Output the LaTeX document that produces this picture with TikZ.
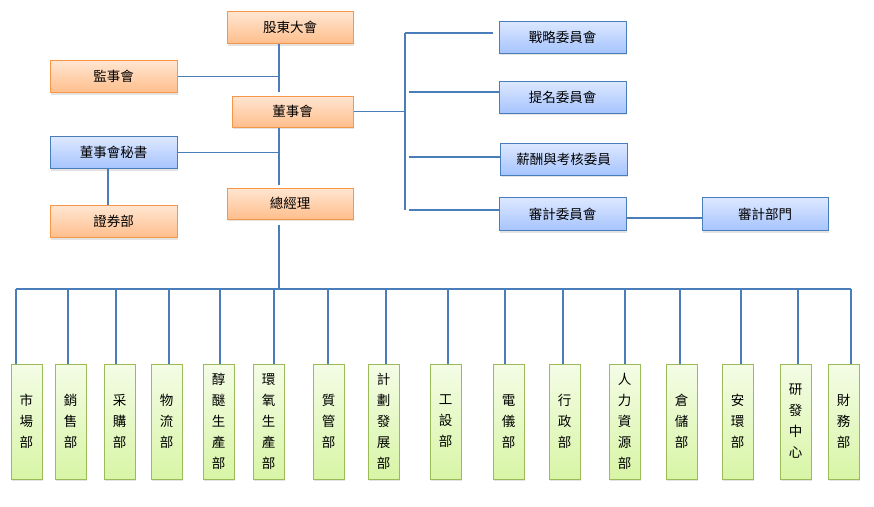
\documentclass[tikz,border=0pt]{standalone}
\usepackage{fontspec}
\newfontfamily\cjk{Noto Sans CJK TC}
\usetikzlibrary{shadows}
\definecolor{lnc}{HTML}{4A7EBB}
\definecolor{orbd}{HTML}{F79646}
\definecolor{ortop}{HTML}{FFE6D2}
\definecolor{orbot}{HTML}{FFBE8C}
\definecolor{blbd}{HTML}{4A7EBB}
\definecolor{bltop}{HTML}{DDE8FF}
\definecolor{blbot}{HTML}{A6C4FE}
\definecolor{grbd}{HTML}{9BBB59}
\definecolor{grtop}{HTML}{F4FCE6}
\definecolor{grbot}{HTML}{D8F5A6}
\tikzset{
  base/.style={draw, line width=1pt, inner sep=0pt, font=\cjk\fontsize{13.5}{21}\selectfont,
    drop shadow={shadow xshift=1pt, shadow yshift=-2pt, opacity=0.22}},
  orbox/.style={base, draw=orbd, top color=ortop, bottom color=orbot, minimum width=126pt, minimum height=32pt},
  blbox/.style={base, draw=blbd, top color=bltop, bottom color=blbot, minimum width=127pt, minimum height=32pt},
  grbox/.style={base, draw=grbd, top color=grtop, bottom color=grbot, minimum width=31pt, minimum height=115pt, align=center},
  conn/.style={draw=lnc, line width=1.1pt}
}
\begin{document}
\begin{tikzpicture}[x=1pt,y=-1pt]
\useasboundingbox (0,0) rectangle (874,506);
% top-left hierarchy
\node[orbox] (gd) at (290,27.5) {股東大會};
\node[orbox, minimum width=127pt] (js) at (113.5,76.5) {監事會};
\node[orbox, minimum width=121pt, minimum height=31pt] (ds) at (292.5,111.5) {董事會};
\node[blbox] (ms) at (113.5,152.5) {董事會秘書};
\node[orbox, minimum height=31pt] (zj) at (290,203.5) {總經理};
\node[orbox, minimum width=127pt] (zq) at (113.5,221.5) {證券部};
% committees
\node[blbox] (zl) at (562.5,37) {戰略委員會};
\node[blbox] (tm) at (562.5,97) {提名委員會};
\node[blbox] (xc) at (563.5,159) {薪酬與考核委員};
\node[blbox, minimum height=33pt] (sj) at (562.5,214) {審計委員會};
\node[blbox, minimum width=126pt, minimum height=33pt] (sb) at (765,214) {審計部門};
% departments
\foreach \n/\x/\t in {
  d1/26.5/{市\\場\\部}, d2/70.5/{銷\\售\\部}, d3/119.5/{采\\購\\部}, d4/166.5/{物\\流\\部},
  d5/218.5/{醇\\醚\\生\\產\\部}, d6/268.5/{環\\氧\\生\\產\\部}, d7/328.5/{質\\管\\部},
  d8/383.5/{計\\劃\\發\\展\\部}, d9/445.5/{工\\設\\部}, d10/508.5/{電\\儀\\部},
  d11/564.5/{行\\政\\部}, d12/624.5/{人\\力\\資\\源\\部}, d13/681.5/{倉\\儲\\部},
  d14/737.5/{安\\環\\部}, d15/795.5/{研\\發\\中\\心}, d16/843.5/{財\\務\\部}}
  {\node[grbox] (\n) at (\x,421.5) {\t};}
% spine
\coordinate (s1) at (279,92);
\coordinate (s2) at (279,185);
\coordinate (s3) at (279,288);
\coordinate (sx) at (108,0);
\draw[conn] (s1 |- gd.south) -- (s1);
\draw[conn] (js.east) -- (js.east -| s1);
\draw[conn] (s2 |- ds.south) -- (s2);
\draw[conn] (ms.east) -- (ms.east -| s2);
\draw[conn] ([yshift=-5pt]s2 |- zj.south) -- (s3);
\draw[conn] (sx |- ms.south) -- (sx |- zq.north);
% committees bracket
\coordinate (r) at (405,111.5);
\coordinate (rt) at (405,33);
\coordinate (rb) at (405,210);
\draw[conn] (ds.east) -- (r);
\draw[conn] (rt) -- (rb);
\draw[conn] (rt) -- ([xshift=-6pt]zl.west |- rt);
\coordinate (b2) at (409,92);
\coordinate (b3) at (409,157);
\coordinate (b4) at (409,210);
\draw[conn] (b2) -- (b2 -| tm.west);
\draw[conn] (b3) -- (b3 -| xc.west);
\draw[conn] (b4) -- (b4 -| sj.west);
\draw[conn] ([yshift=-4pt]sj.east) -- ([yshift=-4pt]sb.west);
% bus
\coordinate (busl) at (16,289);
\coordinate (busr) at (851,289);
\draw[conn] (busl) -- (busr);
\foreach \n/\x in {d1/16, d2/68, d3/116, d4/169, d5/220, d6/274, d7/328, d8/386,
  d9/448, d10/505, d11/563, d12/625, d13/680, d14/741, d15/798, d16/851}
  {\coordinate (t\n) at (\x,289);
   \draw[conn] (t\n) -- (t\n |- \n.north);}
\end{tikzpicture}
\end{document}
